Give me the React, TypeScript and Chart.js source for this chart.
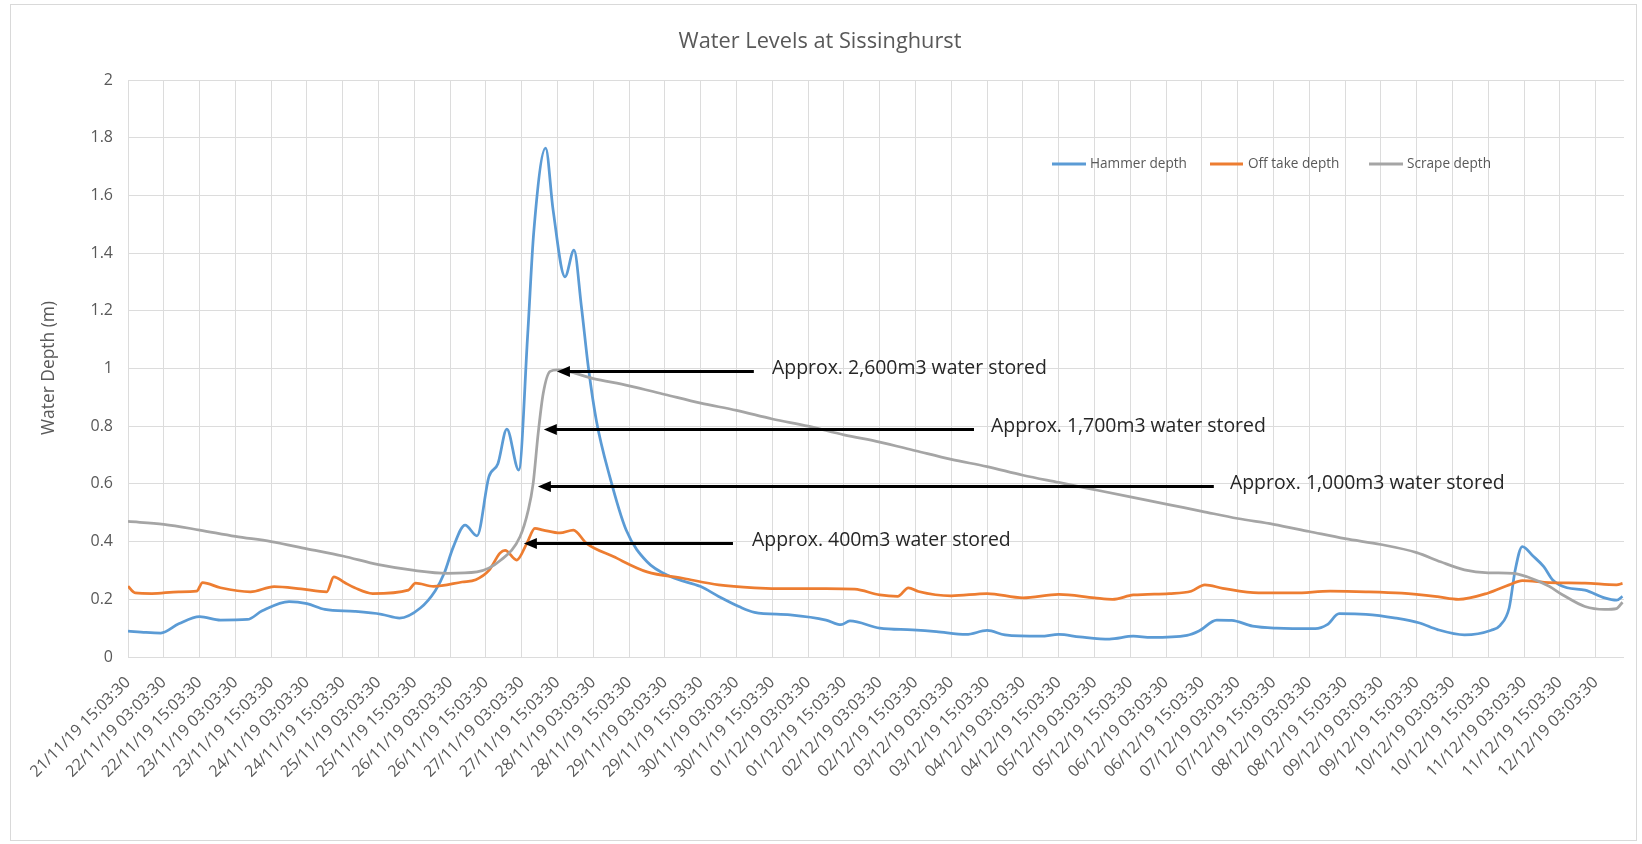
import React, { useEffect, useRef } from "react";
import { Chart, registerables } from "chart.js";

Chart.register(...registerables);

// ---------- text ----------
const chartTitle = "Water Levels at Sissinghurst";
const yAxisTitle = "Water Depth (m)";
const seriesNames = ["Hammer depth", "Off take depth", "Scrape depth"];

// ---------- axis ticks ----------
const xTickLabels = [
  "21/11/19 15:03:30", "22/11/19 03:03:30", "22/11/19 15:03:30", "23/11/19 03:03:30",
  "23/11/19 15:03:30", "24/11/19 03:03:30", "24/11/19 15:03:30", "25/11/19 03:03:30",
  "25/11/19 15:03:30", "26/11/19 03:03:30", "26/11/19 15:03:30", "27/11/19 03:03:30",
  "27/11/19 15:03:30", "28/11/19 03:03:30", "28/11/19 15:03:30", "29/11/19 03:03:30",
  "29/11/19 15:03:30", "30/11/19 03:03:30", "30/11/19 15:03:30", "01/12/19 03:03:30",
  "01/12/19 15:03:30", "02/12/19 03:03:30", "02/12/19 15:03:30", "03/12/19 03:03:30",
  "03/12/19 15:03:30", "04/12/19 03:03:30", "04/12/19 15:03:30", "05/12/19 03:03:30",
  "05/12/19 15:03:30", "06/12/19 03:03:30", "06/12/19 15:03:30", "07/12/19 03:03:30",
  "07/12/19 15:03:30", "08/12/19 03:03:30", "08/12/19 15:03:30", "09/12/19 03:03:30",
  "09/12/19 15:03:30", "10/12/19 03:03:30", "10/12/19 15:03:30", "11/12/19 03:03:30",
  "11/12/19 15:03:30", "12/12/19 03:03:30",
];
// hours after 21/11/19 15:03:30
const xTickHours = [
  0, 12, 24, 36, 48, 60, 72, 84, 96, 108, 120, 132, 144, 156, 168, 180, 192, 204, 216, 228,
  240, 252, 264, 276, 288, 300, 312, 324, 336, 348, 360, 372, 384, 396, 408, 420, 432, 444,
  456, 468, 480, 492,
];
const xMaxHours = 501.5;
const yTickValues = [0, 0.2, 0.4, 0.6, 0.8, 1, 1.2, 1.4, 1.6, 1.8, 2];
const yTickLabels = ["0", "0.2", "0.4", "0.6", "0.8", "1", "1.2", "1.4", "1.6", "1.8", "2"];

// ---------- series (hours after start, depth in m) ----------
const hammerHours = [
  0, 6, 11, 17, 24, 31, 40, 45, 54, 60, 66, 76, 85, 91, 98, 103, 106, 109, 113, 117, 121, 124,
  127, 131, 134, 136, 140, 142.5, 146.5, 149.5, 152, 154.3, 157, 161.5, 167, 174, 182, 192, 198,
  205, 210, 222, 234, 239, 242, 252, 263, 271, 281, 288, 294, 306, 312, 319, 329, 337, 343, 355,
  359, 365, 370, 377, 385, 398, 402, 406, 415, 425, 433, 439, 448, 457, 460, 463, 465, 467.4,
  471, 474.6, 477.6, 482.4, 488.4, 495, 499, 501,
];
const hammerDepth = [
  0.09, 0.085, 0.083, 0.115, 0.14, 0.128, 0.13, 0.16, 0.192, 0.185, 0.165, 0.158, 0.148, 0.135,
  0.17, 0.23, 0.29, 0.38, 0.457, 0.42, 0.625, 0.67, 0.79, 0.648, 1.12, 1.47, 1.764, 1.55, 1.318,
  1.41, 1.214, 1.006, 0.82, 0.625, 0.44, 0.33, 0.278, 0.244, 0.21, 0.174, 0.155, 0.146, 0.128,
  0.112, 0.125, 0.1, 0.094, 0.088, 0.078, 0.092, 0.077, 0.072, 0.078, 0.07, 0.062, 0.072, 0.068,
  0.075, 0.09, 0.128, 0.127, 0.107, 0.1, 0.098, 0.112, 0.15, 0.148, 0.135, 0.118, 0.095, 0.077,
  0.093, 0.11, 0.17, 0.3, 0.383, 0.35, 0.313, 0.267, 0.24, 0.232, 0.205, 0.197, 0.21,
];

const offtakeHours = [
  0, 2.4, 8, 17, 23, 25, 31, 41, 49, 58, 66.6, 69, 72.6, 76, 82, 94, 96.4, 102.4, 112, 116.6,
  121, 124.7, 126.4, 130.3, 133.7, 136.4, 139.2, 144.8, 149.3, 153.7, 162.7, 174, 186, 198, 210,
  222, 234, 243.6, 252, 258, 261.6, 265, 276, 288, 300, 312, 324, 330, 337, 349, 356.4, 361, 367,
  379, 391, 403, 415, 427, 439, 446, 456, 463, 467.4, 476.4, 488.4, 499, 501,
];
const offtakeDepth = [
  0.245, 0.222, 0.22, 0.226, 0.228, 0.258, 0.24, 0.226, 0.244, 0.236, 0.226, 0.278, 0.258, 0.24,
  0.22, 0.232, 0.256, 0.245, 0.26, 0.268, 0.3, 0.36, 0.37, 0.336, 0.394, 0.446, 0.44, 0.43, 0.44,
  0.394, 0.348, 0.295, 0.273, 0.25, 0.24, 0.237, 0.237, 0.235, 0.215, 0.21, 0.24, 0.227, 0.212,
  0.22, 0.205, 0.217, 0.205, 0.2, 0.215, 0.22, 0.228, 0.25, 0.238, 0.222, 0.222, 0.228, 0.226,
  0.221, 0.209, 0.2, 0.222, 0.25, 0.265, 0.258, 0.256, 0.25, 0.255,
];

const scrapeHours = [
  0, 12, 24, 36, 48, 60, 72, 84, 96, 107, 117, 125, 131.4, 134.2, 135.8, 137.5, 139.2, 141.5,
  144, 156, 168, 180, 192, 204, 216, 228, 240, 252, 264, 276, 288, 300, 312, 324, 336, 348, 360,
  372, 384, 396, 408, 420, 432, 440, 448, 456, 464.4, 469, 476.4, 481, 488.4, 495, 499, 501,
];
const scrapeDepth = [
  0.47, 0.46, 0.44, 0.418, 0.4, 0.375, 0.35, 0.32, 0.3, 0.29, 0.295, 0.336, 0.417, 0.51, 0.6,
  0.775, 0.914, 0.99, 0.995, 0.965, 0.94, 0.91, 0.88, 0.855, 0.825, 0.8, 0.77, 0.745, 0.715,
  0.685, 0.66, 0.63, 0.605, 0.58, 0.555, 0.53, 0.505, 0.48, 0.46, 0.435, 0.41, 0.39, 0.362,
  0.33, 0.302, 0.292, 0.29, 0.278, 0.245, 0.215, 0.175, 0.165, 0.168, 0.19,
];

// ---------- annotations ----------
const noteTexts = [
  "Approx. 2,600m3 water stored",
  "Approx. 1,700m3 water stored",
  "Approx. 1,000m3 water stored",
  "Approx. 400m3 water stored",
];
const noteLevels = [0.99, 0.79, 0.592, 0.395];
const noteTipHours = [143.8, 139.4, 137.4, 132.7];
const noteTailHours = [209.8, 283.6, 364.0, 202.8];
const noteTextHours = [215.9, 289.3, 369.4, 209.2];

// ---------- styles ----------
const FONT = '"Open Sans", "Noto Sans", "DejaVu Sans", sans-serif';
const seriesColors = ["#5B9BD5", "#ED7D31", "#A5A5A5"];
const textGrey = "#595959";
const gridGrey = "#DCDCDC";
const W = 1642;
const H = 844;

function fitSize(ctx: CanvasRenderingContext2D, text: string, width: number) {
  ctx.save();
  ctx.font = `100px ${FONT}`;
  const w = ctx.measureText(text).width;
  ctx.restore();
  return (100 * width) / w;
}

const overlayPlugin = {
  id: "overlay",
  beforeDraw(chart: any) {
    const ctx: CanvasRenderingContext2D = chart.ctx;
    ctx.save();
    ctx.fillStyle = "#ffffff";
    ctx.fillRect(0, 0, W, H);
    ctx.strokeStyle = "#D9D9D9";
    ctx.lineWidth = 1;
    ctx.strokeRect(10.5, 4.5, 1626, 836);
    ctx.restore();
  },
  afterDatasetsDraw(chart: any) {
    const ctx: CanvasRenderingContext2D = chart.ctx;
    const xs = chart.scales.x;
    const ys = chart.scales.y;
    ctx.save();
    const size = fitSize(ctx, noteTexts[0], 275);
    noteTexts.forEach((t, i) => {
      const y = Math.round(ys.getPixelForValue(noteLevels[i])) + 0.5;
      const tip = xs.getPixelForValue(noteTipHours[i]);
      const tail = xs.getPixelForValue(noteTailHours[i]);
      ctx.strokeStyle = "#000000";
      ctx.lineWidth = 3;
      ctx.beginPath();
      ctx.moveTo(tail, y);
      ctx.lineTo(tip + 10, y);
      ctx.stroke();
      ctx.fillStyle = "#000000";
      ctx.beginPath();
      ctx.moveTo(tip, y);
      ctx.lineTo(tip + 13, y - 5.5);
      ctx.lineTo(tip + 13, y + 5.5);
      ctx.closePath();
      ctx.fill();
      ctx.fillStyle = "#262626";
      ctx.font = `${size}px ${FONT}`;
      ctx.textAlign = "left";
      ctx.textBaseline = "middle";
      ctx.fillText(t, xs.getPixelForValue(noteTextHours[i]), y - 3);
    });
    ctx.restore();
  },
  afterDraw(chart: any) {
    const ctx: CanvasRenderingContext2D = chart.ctx;
    ctx.save();
    // title
    ctx.fillStyle = textGrey;
    ctx.textAlign = "center";
    ctx.textBaseline = "middle";
    ctx.font = `${fitSize(ctx, chartTitle, 283)}px ${FONT}`;
    ctx.fillText(chartTitle, 820, 42);
    // y axis title
    ctx.save();
    ctx.translate(49, 368);
    ctx.rotate(-Math.PI / 2);
    ctx.font = `${fitSize(ctx, yAxisTitle, 134)}px ${FONT}`;
    ctx.fillText(yAxisTitle, 0, 0);
    ctx.restore();
    // legend
    const legLine0 = [1052, 1210, 1369];
    const legLine1 = [1086, 1243, 1403];
    const legText = [1090, 1248, 1407];
    const legY = 164;
    const legSize = fitSize(ctx, seriesNames[0], 97);
    seriesNames.forEach((n, i) => {
      ctx.strokeStyle = seriesColors[i];
      ctx.lineWidth = 3;
      ctx.beginPath();
      ctx.moveTo(legLine0[i], legY);
      ctx.lineTo(legLine1[i], legY);
      ctx.stroke();
      ctx.fillStyle = textGrey;
      ctx.textAlign = "left";
      ctx.textBaseline = "middle";
      ctx.font = `${legSize}px ${FONT}`;
      ctx.fillText(n, legText[i], legY);
    });
    ctx.restore();
  },
};

export default function App() {
  const canvasRef = useRef<HTMLCanvasElement | null>(null);

  useEffect(() => {
    if (!canvasRef.current) return;
    const mk = (hours: number[], depth: number[]) => hours.map((h, i) => ({ x: h, y: depth[i] }));
    const chart = new Chart(canvasRef.current, {
      type: "line",
      data: {
        datasets: [
          {
            label: seriesNames[0],
            data: mk(hammerHours, hammerDepth),
            borderColor: seriesColors[0],
            borderWidth: 2.75,
            pointRadius: 0,
            fill: false,
            cubicInterpolationMode: "monotone",
            order: 2,
          },
          {
            label: seriesNames[1],
            data: mk(offtakeHours, offtakeDepth),
            borderColor: seriesColors[1],
            borderWidth: 2.75,
            pointRadius: 0,
            fill: false,
            cubicInterpolationMode: "monotone",
            order: 1,
          },
          {
            label: seriesNames[2],
            data: mk(scrapeHours, scrapeDepth),
            borderColor: seriesColors[2],
            borderWidth: 2.75,
            pointRadius: 0,
            fill: false,
            cubicInterpolationMode: "monotone",
            order: 0,
          },
        ],
      },
      options: {
        responsive: false,
        animation: false,
        events: [],
        layout: { padding: { top: 80, left: 0, right: 18, bottom: 0 } },
        plugins: {
          legend: { display: false },
          title: { display: false },
          tooltip: { enabled: false },
        },
        scales: {
          x: {
            type: "linear",
            min: 0,
            max: xMaxHours,
            afterBuildTicks: (scale: any) => {
              scale.ticks = xTickHours.map((v) => ({ value: v }));
            },
            afterFit: (scale: any) => {
              scale.height = 187;
            },
            grid: { color: gridGrey, lineWidth: 1, drawTicks: false },
            border: { display: false },
            ticks: {
              autoSkip: false,
              maxRotation: 45,
              minRotation: 45,
              padding: 16,
              color: textGrey,
              font: { family: FONT, size: 16 },
              callback: (_v: any, i: number) => xTickLabels[i],
            },
          },
          y: {
            min: 0,
            max: 2,
            afterBuildTicks: (scale: any) => {
              scale.ticks = yTickValues.map((v) => ({ value: v }));
            },
            afterFit: (scale: any) => {
              scale.width = 128;
            },
            grid: { color: gridGrey, lineWidth: 1, drawTicks: false },
            border: { display: false },
            ticks: {
              padding: 15,
              color: textGrey,
              font: { family: FONT, size: 16 },
              callback: (_v: any, i: number) => yTickLabels[i],
            },
          },
        },
      },
      plugins: [overlayPlugin],
    } as any);
    return () => chart.destroy();
  }, []);

  return (
    <div style={{ position: "absolute", left: 0, top: 0, width: W, height: H, background: "#fff" }}>
      <canvas ref={canvasRef} width={W} height={H} style={{ display: "block", width: W, height: H }} />
    </div>
  );
}
